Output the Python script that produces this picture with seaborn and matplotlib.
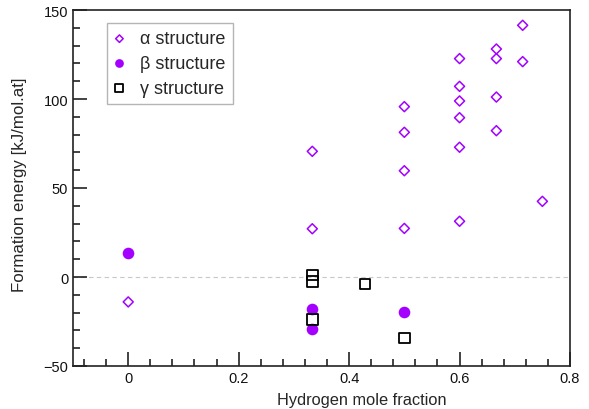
import numpy as np
import pandas as pd
import seaborn as sns
from matplotlib import pyplot as plt
from matplotlib.ticker import MultipleLocator

# hydrogen mole fraction / formation energy (kJ/mol.at) per structure type
alpha_x = [0.0, 1/3, 1/3, 0.5, 0.5, 0.5, 0.5, 0.6, 0.6, 0.6, 0.6, 0.6, 0.6,
           2/3, 2/3, 2/3, 2/3, 5/7, 5/7, 0.75]
alpha_y = [-14.0, 70.6, 27.1, 95.7, 81.3, 59.7, 27.3, 122.7, 107.1, 98.9,
           89.5, 72.9, 31.3, 128.1, 122.7, 101.1, 82.2, 141.4, 121.0, 42.5]

beta_x = [0.0, 1/3, 1/3, 0.5]
beta_y = [13.7, -18.2, -29.2, -19.5]

gamma_x = [1/3, 1/3, 1/3, 3/7, 0.5]
gamma_y = [1.1, -2.6, -24.0, -3.9, -34.3]

labels = ['α structure', 'β structure', 'γ structure']

PURPLE = '#a300ff'
AXCOL = '#222222'

sns.set_style('white')
plt.rcParams['font.family'] = ['Liberation Sans', 'DejaVu Sans']
plt.rcParams['axes.unicode_minus'] = True

fig = plt.figure(figsize=(5.89, 4.10), dpi=100)
ax = fig.add_axes([73 / 589, 1 - 367 / 410, 497 / 589, 356 / 410])

ax.axhline(0, color='#c8c8c8', lw=0.8, ls=(0, (4, 3)), zorder=0)

df_a = pd.DataFrame({'x': alpha_x, 'y': alpha_y})
df_b = pd.DataFrame({'x': beta_x, 'y': beta_y})
df_g = pd.DataFrame({'x': gamma_x, 'y': gamma_y})

sns.scatterplot(data=df_a, x='x', y='y', ax=ax, marker='D', s=26,
                color=PURPLE, label=labels[0], zorder=3)
pa = ax.collections[-1]
pa.set_facecolor('none')
pa.set_edgecolor(PURPLE)
pa.set_linewidth(1.1)

sns.scatterplot(data=df_b, x='x', y='y', ax=ax, marker='o', s=70,
                color=PURPLE, label=labels[1], zorder=3)
pb = ax.collections[-1]
pb.set_edgecolor(PURPLE)
pb.set_linewidth(0)

sns.scatterplot(data=df_g, x='x', y='y', ax=ax, marker='s', s=60,
                color='black', label=labels[2], zorder=3)
pg = ax.collections[-1]
pg.set_facecolor('none')
pg.set_edgecolor('black')
pg.set_linewidth(1.3)

ax.set_xlim(-0.1, 0.8)
ax.set_ylim(-50, 150)
ax.xaxis.set_major_locator(MultipleLocator(0.2))
ax.xaxis.set_minor_locator(MultipleLocator(0.04))
ax.yaxis.set_major_locator(MultipleLocator(50))
ax.yaxis.set_minor_locator(MultipleLocator(10))
ax.set_xticks([0, 0.2, 0.4, 0.6, 0.8])
ax.set_xticklabels(['0', '0.2', '0.4', '0.6', '0.8'])

ax.tick_params(which='both', direction='in', top=False, right=False,
               bottom=True, left=True, color=AXCOL, width=1.2,
               labelsize=10.5, pad=3.5, labelcolor='#111111')
ax.tick_params(which='major', length=10)
ax.tick_params(which='minor', length=5)

for s in ax.spines.values():
    s.set_color(AXCOL)
    s.set_linewidth(1.2)

ax.set_xlabel('Hydrogen mole fraction', fontsize=11.8)
ax.set_ylabel('Formation energy [kJ/mol.at]', fontsize=12.2)
ax.xaxis.set_label_coords(0.581, -0.072)
ax.yaxis.set_label_coords(-0.093, 0.511)

leg = ax.legend(loc='upper left', bbox_to_anchor=(0.068, 0.963),
                borderaxespad=0, fontsize=13, markerscale=0.75,
                handlelength=0.6, handletextpad=0.85, borderpad=0.4,
                labelspacing=0.42, fancybox=False, framealpha=1,
                edgecolor='#b5b5b5')
leg.get_frame().set_linewidth(1.0)

fig.savefig('out.png', dpi=100)
plt.close(fig)
